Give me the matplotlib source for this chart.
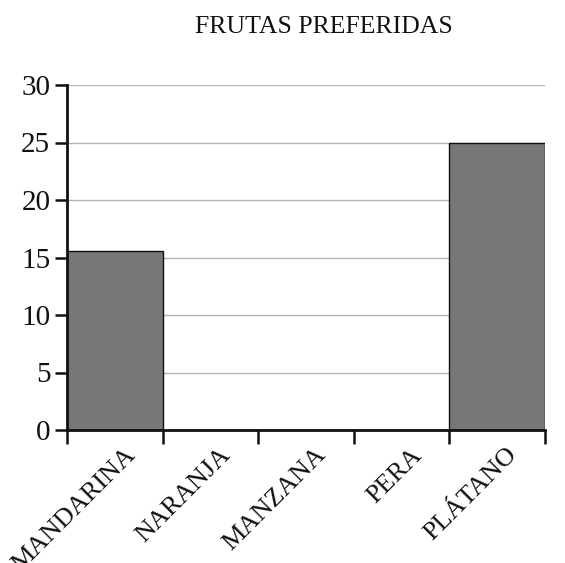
import matplotlib
matplotlib.use("Agg")
import matplotlib.pyplot as plt
import matplotlib.transforms as mtransforms
import numpy as np

categories = ["MANDARINA", "NARANJA", "MANZANA", "PERA", "PLÁTANO"]
values = [15.6, 0, 0, 0, 25]
y_ticks = [0, 5, 10, 15, 20, 25, 30]
title = "FRUTAS PREFERIDAS"

plt.rcParams["font.family"] = ["Liberation Serif", "DejaVu Serif"]

fig = plt.figure(figsize=(5.65, 5.63), dpi=100)
ax = fig.add_axes([67 / 565, 1 - 430 / 563, (545 - 67) / 565, (430 - 85) / 563])

x = np.arange(len(categories))
ax.bar(x, values, width=1.0, color="#777777", edgecolor="#111111",
       linewidth=1.0, zorder=3)

ax.set_xlim(-0.5, len(categories) - 0.5)
ax.set_ylim(0, 30)
ax.set_yticks(y_ticks)
ax.yaxis.grid(True, color="#b5b5b5", linewidth=1.0, zorder=0)
ax.set_axisbelow(True)

for side in ("top", "right"):
    ax.spines[side].set_visible(False)
for side in ("left", "bottom"):
    ax.spines[side].set_linewidth(2.0)
    ax.spines[side].set_color("#111111")
    ax.spines[side].set_zorder(4)

ax.tick_params(axis="y", direction="out", length=9, width=1.8, pad=3,
               labelsize=21, colors="#111111")

# boundary ticks between categories, labels at the centres
ax.set_xticks(np.arange(-0.5, len(categories)), minor=True)
ax.tick_params(axis="x", which="minor", direction="out", length=10, width=1.8,
               color="#111111")
ax.set_xticks(x)
ax.tick_params(axis="x", which="major", length=0, pad=10)
ax.set_xticklabels(categories, rotation=45, ha="right", va="top",
                   rotation_mode="anchor", fontsize=19, color="#111111")
offset = mtransforms.ScaledTranslation(9 / 100, 0, fig.dpi_scale_trans)
for lbl in ax.get_xticklabels():
    lbl.set_transform(lbl.get_transform() + offset)

fig.text(324 / 565, 1 - 27 / 563, title, ha="center", va="center",
         fontsize=18.5, color="#111111")

fig.savefig("out.png", dpi=100, facecolor="white")
